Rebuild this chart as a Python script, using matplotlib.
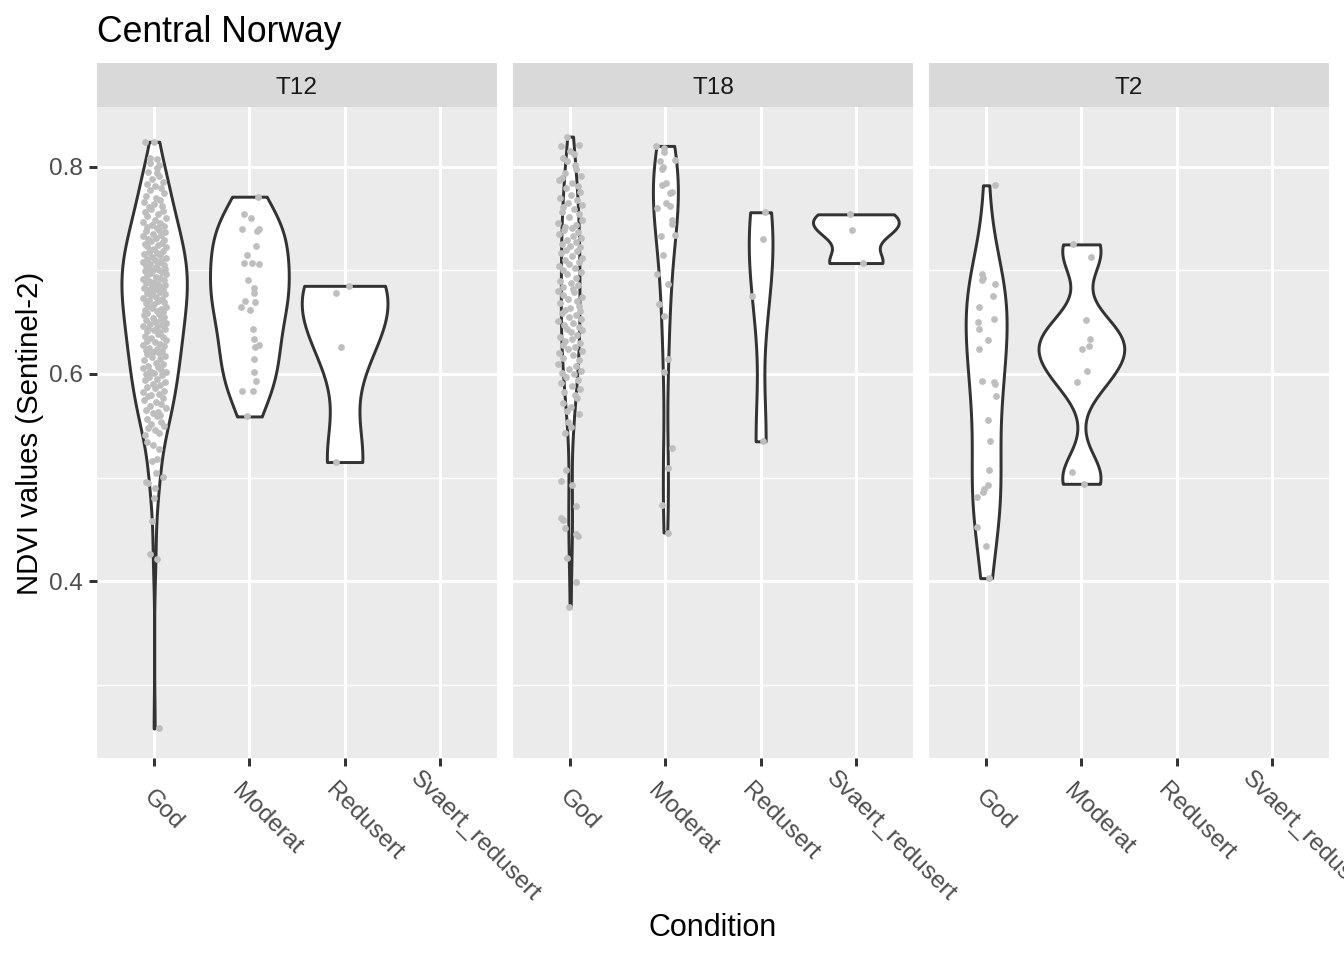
import numpy as np
import matplotlib.pyplot as plt
from matplotlib.transforms import ScaledTranslation

plt.rcParams['font.family'] = ['Liberation Sans', 'DejaVu Sans']

conditions = ['God', 'Moderat', 'Redusert', 'Svaert_redusert']
panels = ['T12', 'T18', 'T2']

# --- T12 ---
t12_god_ndvi = [
    0.824, 0.824, 0.808, 0.807, 0.804, 0.802, 0.794,
    0.799, 0.795, 0.791, 0.788, 0.785, 0.783, 0.781,
    0.779, 0.777, 0.775, 0.772, 0.770, 0.768, 0.766, 0.764, 0.762, 0.761,
    0.759, 0.757, 0.756, 0.754, 0.752, 0.750, 0.749, 0.747, 0.746, 0.744, 0.743, 0.742, 0.741,
    0.739, 0.738, 0.737, 0.735, 0.734, 0.733, 0.731, 0.730, 0.729, 0.728, 0.726, 0.725, 0.724,
    0.723, 0.722, 0.721, 0.720,
    0.719, 0.718, 0.717, 0.716, 0.715, 0.713, 0.712, 0.711, 0.710, 0.709, 0.708, 0.707, 0.706,
    0.705, 0.704, 0.703, 0.702, 0.701, 0.700, 0.700,
    0.699, 0.698, 0.697, 0.696, 0.695, 0.694, 0.693, 0.692, 0.691, 0.690, 0.689, 0.688, 0.687,
    0.686, 0.685, 0.684, 0.683, 0.682, 0.681, 0.681, 0.680,
    0.679, 0.678, 0.677, 0.676, 0.674, 0.673, 0.672, 0.671, 0.670, 0.669, 0.668, 0.667, 0.666,
    0.665, 0.664, 0.663, 0.662, 0.661, 0.660,
    0.659, 0.658, 0.657, 0.655, 0.654, 0.653, 0.652, 0.650, 0.649, 0.648, 0.647, 0.646, 0.645,
    0.644, 0.643, 0.642, 0.641, 0.640,
    0.639, 0.637, 0.636, 0.635, 0.633, 0.632, 0.631, 0.629, 0.628, 0.627, 0.625, 0.624, 0.623,
    0.622, 0.621, 0.620,
    0.619, 0.617, 0.616, 0.614, 0.613, 0.611, 0.610, 0.608, 0.607, 0.606, 0.604, 0.603, 0.602,
    0.601, 0.600,
    0.599, 0.597, 0.595, 0.594, 0.592, 0.590, 0.589, 0.587, 0.586, 0.584, 0.583, 0.581, 0.580,
    0.579, 0.577, 0.575, 0.573, 0.571, 0.569, 0.567, 0.565, 0.563, 0.562, 0.560,
    0.559, 0.557, 0.554, 0.552, 0.550, 0.548, 0.546, 0.543, 0.541,
    0.534, 0.531, 0.528, 0.518, 0.516, 0.504, 0.501, 0.496, 0.495, 0.490, 0.480, 0.458, 0.426,
    0.421, 0.258,
]
t12_god_jit = [
    -0.10, 0.00, -0.04, 0.03, -0.04, 0.05, 0.03,
    0.03, -0.06, 0.05, -0.02, 0.09, -0.08, 0.01,
    0.07, -0.04, 0.10, -0.09, 0.02, 0.06, -0.11, 0.00, 0.08, -0.05,
    -0.03, 0.09, -0.10, 0.04, -0.07, 0.12, 0.01, -0.12, 0.06, -0.02, 0.10, -0.08, 0.03,
    0.05, -0.09, 0.11, -0.01, 0.07, -0.12, 0.02, -0.06, 0.10, -0.03, 0.08, -0.10, 0.04,
    -0.07, 0.12, 0.00, -0.04,
    0.09, -0.05, 0.03, -0.11, 0.06, -0.02, 0.12, -0.08, 0.01, 0.07, -0.12, 0.04, -0.04,
    0.10, -0.09, 0.02, -0.06, 0.11, -0.01, 0.05,
    -0.10, 0.08, -0.03, 0.12, -0.07, 0.02, 0.06, -0.12, 0.10, -0.05, 0.00, -0.09, 0.04,
    0.11, -0.02, 0.07, -0.11, 0.03, -0.06, 0.09, -0.01,
    0.06, -0.08, 0.11, -0.03, 0.02, -0.12, 0.08, -0.05, 0.04, 0.10, -0.09, 0.00, -0.06,
    0.12, -0.02, 0.07, -0.10, 0.03, 0.09,
    -0.07, 0.05, -0.11, 0.10, -0.01, 0.07, -0.09, 0.02, 0.12, -0.04, 0.08, -0.12, 0.03,
    -0.06, 0.11, 0.00, -0.08, 0.06,
    0.04, -0.10, 0.09, -0.03, 0.12, -0.07, 0.01, 0.06, -0.12, 0.10, -0.05, 0.03, -0.09,
    0.08, -0.01, 0.05,
    -0.08, 0.11, -0.02, 0.06, -0.11, 0.02, 0.09, -0.06, 0.04, -0.12, 0.07, -0.04, 0.12,
    0.00, -0.09,
    0.08, -0.05, 0.03, -0.10, 0.11, -0.01, 0.06, -0.08, 0.01, 0.10, -0.12, 0.05, -0.03,
    -0.06, 0.09, -0.11, 0.02, 0.07, -0.04, 0.12, -0.09, 0.04, -0.01, 0.06,
    0.03, -0.08, 0.07, -0.03, 0.10, -0.06, 0.01, 0.05, -0.10,
    -0.07, -0.01, 0.05, 0.03, -0.02, 0.02, 0.09, -0.09, -0.06, 0.01, 0.00, -0.02, -0.04,
    0.03, 0.05,
]
t12_mod_ndvi = [0.771, 0.754, 0.750, 0.740, 0.738, 0.740, 0.723, 0.715, 0.707, 0.707,
                0.706, 0.691, 0.683, 0.678, 0.670, 0.665, 0.669, 0.662, 0.643, 0.634,
                0.626, 0.628, 0.614, 0.602, 0.593, 0.584, 0.584, 0.559]
t12_mod_jit = [0.09, -0.06, 0.02, -0.08, 0.08, 0.10, 0.07, -0.03, -0.06, 0.03,
               0.10, -0.01, 0.05, 0.05, -0.05, -0.09, 0.06, 0.01, 0.04, 0.05,
               0.06, 0.10, 0.05, 0.05, 0.07, -0.08, 0.04, -0.02]
t12_red_ndvi = [0.685, 0.678, 0.626, 0.515]
t12_red_jit = [0.05, -0.09, -0.04, -0.09]

# --- T18 ---
t18_god_ndvi = [
    0.829, 0.821, 0.820, 0.815, 0.812, 0.808, 0.805, 0.802,
    0.798, 0.794, 0.791, 0.789, 0.787, 0.784, 0.781,
    0.779, 0.776, 0.773, 0.770, 0.768, 0.765, 0.763, 0.761,
    0.759, 0.756, 0.754, 0.751, 0.749, 0.746, 0.744, 0.742, 0.741,
    0.739, 0.737, 0.735, 0.733, 0.731, 0.729, 0.727, 0.725, 0.723, 0.722, 0.720,
    0.719, 0.717, 0.714, 0.712, 0.710, 0.708, 0.706, 0.704, 0.702, 0.700,
    0.698, 0.696, 0.693, 0.690, 0.688, 0.686, 0.684, 0.682, 0.680,
    0.679, 0.676, 0.674, 0.672, 0.670, 0.668, 0.666, 0.664, 0.662, 0.661,
    0.659, 0.657, 0.655, 0.653, 0.651, 0.649, 0.647, 0.645, 0.643, 0.642, 0.640,
    0.638, 0.636, 0.634, 0.632, 0.630, 0.628, 0.626, 0.624, 0.622, 0.620,
    0.618, 0.615, 0.613, 0.610, 0.608, 0.605, 0.603, 0.601, 0.600,
    0.597, 0.594, 0.591, 0.588, 0.585, 0.583, 0.580,
    0.577, 0.572, 0.568, 0.564, 0.561,
    0.554, 0.549, 0.543, 0.507, 0.497, 0.493, 0.473, 0.461, 0.459, 0.451, 0.446, 0.444,
    0.422, 0.399, 0.375,
]
t18_god_jit = [
    -0.03, 0.09, -0.10, 0.00, 0.04, -0.07, -0.03, 0.05,
    0.06, -0.05, 0.11, -0.09, -0.12, 0.02, 0.08,
    -0.04, 0.10, 0.01, -0.11, 0.07, -0.02, 0.12, -0.07,
    0.04, -0.09, 0.09, -0.01, 0.12, -0.13, 0.06, -0.05, 0.02,
    -0.06, 0.08, -0.12, 0.03, 0.11, -0.03, 0.06, -0.09, 0.00, 0.10, -0.04,
    0.07, -0.10, 0.02, 0.12, -0.05, 0.09, -0.01, -0.12, 0.05, -0.07,
    0.11, -0.03, 0.06, -0.11, 0.01, 0.08, -0.07, 0.03, -0.13,
    0.04, -0.08, 0.12, -0.02, 0.07, -0.11, 0.09, 0.00, -0.05, 0.10,
    -0.09, 0.06, -0.01, 0.11, -0.13, 0.03, -0.06, 0.09, -0.03, 0.12, 0.01,
    0.07, -0.11, 0.02, -0.05, 0.10, -0.08, 0.05, -0.02, 0.12, -0.12,
    0.03, -0.07, 0.09, -0.13, 0.06, -0.01, 0.11, -0.09, 0.04,
    -0.04, 0.08, -0.10, 0.02, 0.10, -0.06, 0.05,
    0.07, -0.08, 0.01, -0.03, 0.09,
    -0.02, 0.01, -0.05, -0.04, -0.10, 0.02, 0.06, -0.10, -0.08, -0.05, 0.06, 0.08,
    -0.03, 0.06, -0.01,
]
t18_mod_ndvi = [0.820, 0.818, 0.814, 0.806, 0.805, 0.798, 0.800, 0.782, 0.784, 0.775,
                0.776, 0.765, 0.762, 0.760, 0.749, 0.745, 0.734, 0.733, 0.715, 0.696,
                0.687, 0.667, 0.656, 0.614, 0.602, 0.529, 0.509, 0.474, 0.447]
t18_mod_jit = [-0.10, -0.01, -0.01, 0.10, -0.06, -0.04, -0.03, -0.04, 0.01, 0.05,
               0.07, 0.01, 0.05, -0.09, 0.07, 0.07, 0.10, -0.05, -0.02, -0.09,
               0.03, -0.07, -0.01, 0.03, -0.01, 0.07, 0.03, -0.04, 0.03]
t18_red_ndvi = [0.756, 0.730, 0.675, 0.535]
t18_red_jit = [0.05, 0.03, -0.09, 0.02]
t18_sva_ndvi = [0.754, 0.739, 0.707]
t18_sva_jit = [-0.06, -0.04, 0.08]

# --- T2 ---
t2_god_ndvi = [0.782, 0.696, 0.693, 0.691, 0.687, 0.675, 0.665, 0.653, 0.650, 0.643,
               0.633, 0.624, 0.593, 0.592, 0.590, 0.579, 0.556, 0.535, 0.507, 0.493,
               0.489, 0.486, 0.481, 0.452, 0.434, 0.403]
t2_god_jit = [0.09, -0.04, -0.03, -0.04, 0.09, 0.07, -0.07, 0.08, -0.09, -0.08,
              0.02, -0.08, -0.04, 0.08, 0.09, 0.10, 0.02, 0.04, 0.03, 0.02,
              -0.02, -0.03, -0.10, -0.10, 0.00, 0.03]
t2_mod_ndvi = [0.725, 0.713, 0.652, 0.634, 0.627, 0.624, 0.603, 0.592, 0.505, 0.494]
t2_mod_jit = [-0.09, 0.10, 0.05, 0.09, 0.08, 0.01, 0.06, -0.05, -0.10, 0.03]

groups = {
    'T12': {'God': (t12_god_ndvi, t12_god_jit), 'Moderat': (t12_mod_ndvi, t12_mod_jit),
            'Redusert': (t12_red_ndvi, t12_red_jit)},
    'T18': {'God': (t18_god_ndvi, t18_god_jit), 'Moderat': (t18_mod_ndvi, t18_mod_jit),
            'Redusert': (t18_red_ndvi, t18_red_jit), 'Svaert_redusert': (t18_sva_ndvi, t18_sva_jit)},
    'T2': {'God': (t2_god_ndvi, t2_god_jit), 'Moderat': (t2_mod_ndvi, t2_mod_jit)},
}


def ydensity(vals, n=512):
    # gaussian kde, bw.nrd0, trimmed to data range (like geom_violin)
    v = np.asarray(vals, dtype=float)
    q75, q25 = np.percentile(v, [75, 25])
    bw = 0.9 * min(v.std(ddof=1), (q75 - q25) / 1.34) * len(v) ** -0.2
    grid = np.linspace(v.min(), v.max(), n)
    d = np.exp(-0.5 * ((grid[:, None] - v[None, :]) / bw) ** 2).sum(axis=1)
    d /= len(v) * bw * np.sqrt(2 * np.pi)
    return grid, d


all_vals = np.concatenate([np.asarray(g[0]) for p in groups.values() for g in p.values()])
rng_ = all_vals.max() - all_vals.min()
ylim = (all_vals.min() - 0.05 * rng_, all_vals.max() + 0.05 * rng_)

W, H, DPI = 1344, 960, 200
fig = plt.figure(figsize=(W / DPI, H / DPI), dpi=DPI)
renderer = fig.canvas.get_renderer()
lw = 1.07
panel_left = [97, 513, 929]
pw, ptop, pbot = 400, 107, 758

# label widths, for the rotated x labels
label_w = {}
for c in conditions:
    t = fig.text(0, 0, c, fontsize=8.8)
    label_w[c] = t.get_window_extent(renderer).width
    t.remove()

for i, pname in enumerate(panels):
    ax = fig.add_axes([panel_left[i] / W, 1 - pbot / H, pw / W, (pbot - ptop) / H])
    ax.set_facecolor('#EBEBEB')
    for s in ax.spines.values():
        s.set_visible(False)
    ax.set_xlim(0.4, 4.6)
    ax.set_ylim(*ylim)
    ax.set_yticks([0.4, 0.6, 0.8])
    ax.set_yticks([0.3, 0.5, 0.7], minor=True)
    ax.set_xticks([1, 2, 3, 4])
    ax.set_xticklabels([])
    ax.grid(which='major', color='white', lw=lw)
    ax.yaxis.grid(which='minor', color='white', lw=lw / 2)
    ax.set_axisbelow(True)
    ax.tick_params(which='major', length=2.75, width=lw, color='#333333',
                   labelcolor='#4D4D4D', labelsize=8.8, pad=2.2)
    ax.tick_params(which='minor', length=0)
    if i > 0:
        ax.tick_params(axis='y', left=False, labelleft=False)

    # rotated condition labels
    for k, c in enumerate(conditions):
        a = 20.2 - 0.208 * label_w[c]
        dx = 0.707 * a - 7.07
        dy = -(0.707 * a + 7.07) - 13.75
        off = ScaledTranslation(dx / DPI, dy / DPI, fig.dpi_scale_trans)
        ax.text(k + 1, 0, c, transform=ax.get_xaxis_transform() + off, rotation=-45,
                rotation_mode='anchor', ha='left', va='top', fontsize=8.8, color='#4D4D4D')

    dens = {c: ydensity(g[0]) for c, g in groups[pname].items()}
    dmax = max(d.max() for _, d in dens.values())
    for c, (vals, jit) in groups[pname].items():
        pos = conditions.index(c) + 1
        grid, d = dens[c]
        half = d / dmax * 0.45
        ax.fill_betweenx(grid, pos - half, pos + half, facecolor='white',
                         edgecolor='#333333', lw=lw, zorder=2)
    for c, (vals, jit) in groups[pname].items():
        pos = conditions.index(c) + 1
        ax.scatter(pos + np.asarray(jit), vals, s=6, c='#BEBEBE', lw=0, zorder=3)

    sax = fig.add_axes([panel_left[i] / W, 1 - ptop / H, pw / W, 44 / H])
    sax.set_facecolor('#D9D9D9')
    sax.set_xticks([])
    sax.set_yticks([])
    for s in sax.spines.values():
        s.set_visible(False)
    sax.text(0.5, 0.44, pname, ha='center', va='center', fontsize=8.8, color='#1A1A1A',
             transform=sax.transAxes)

fig.text(97 / W, 1 - 42 / H, 'Central Norway', fontsize=12.8, ha='left', va='baseline')
fig.text(30 / W, 1 - 433 / H, 'NDVI values (Sentinel-2)', fontsize=10.6, rotation=90,
         ha='center', va='center')
fig.text(713 / W, 1 - 928 / H, 'Condition', fontsize=11, ha='center', va='center')

fig.savefig('out.png', dpi=DPI)
